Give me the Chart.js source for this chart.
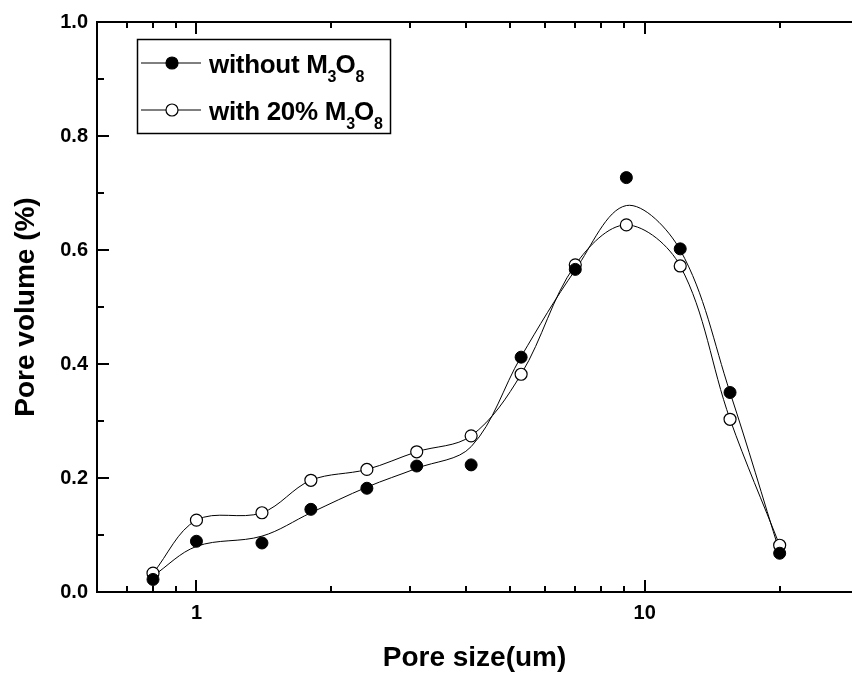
<!DOCTYPE html>
<html>
<head>
<meta charset="utf-8">
<script src="https://cdn.jsdelivr.net/npm/chart.js@4/dist/chart.umd.min.js"></script>
<style>
  html, body { margin: 0; padding: 0; background: #fff; overflow: hidden; }
</style>
</head>
<body>
<canvas id="poreChart" width="852" height="682"></canvas>
<script>
// values
var poreSize = [0.8, 1.0, 1.4, 1.8, 2.4, 3.1, 4.1, 5.3, 7.0, 9.1, 12.0, 15.5, 20.0];
var volWithout = [0.022, 0.089, 0.086, 0.145, 0.182, 0.221, 0.223, 0.412, 0.566, 0.727, 0.602, 0.350, 0.068];
var volWithoutCurve = [0.028, 0.080, 0.098, 0.139, 0.184, 0.217, 0.255, 0.413, 0.565, 0.678, 0.600, 0.350, 0.070];
var volWith = [0.033, 0.126, 0.139, 0.196, 0.215, 0.246, 0.274, 0.382, 0.574, 0.644, 0.572, 0.303, 0.082];
var seriesNames = ['without M\u2083O\u2088', 'with 20% M\u2083O\u2088'];

var xMajorTicks = [1, 10];
var xMinorTicks = [0.7, 0.8, 0.9, 2, 3, 4, 5, 6, 7, 8, 9, 20];
var yMajorTicks = [0, 0.2, 0.4, 0.6, 0.8, 1.0];
var yMinorTicks = [0.1, 0.3, 0.5, 0.7, 0.9];

var FONT = 'Arial, "Liberation Sans", Helvetica, sans-serif';

function toPoints(xs, ys) {
  return xs.map(function(x, i) { return { x: x, y: ys[i] }; });
}

// inward ticks on bottom/top/left plus the top frame line
var frameTicks = {
  id: 'frameTicks',
  afterDraw: function(chart) {
    var ctx = chart.ctx, a = chart.chartArea;
    var xs = chart.scales.x, ys = chart.scales.y;
    ctx.save();
    ctx.strokeStyle = '#000';
    ctx.lineWidth = 2;
    ctx.beginPath();
    ctx.moveTo(a.left - 1, a.top);
    ctx.lineTo(a.right, a.top);
    function xTick(v, len) {
      var px = Math.round(xs.getPixelForValue(v));
      ctx.moveTo(px, a.bottom); ctx.lineTo(px, a.bottom - len);
      ctx.moveTo(px, a.top); ctx.lineTo(px, a.top + len);
    }
    function yTick(v, len) {
      var py = Math.round(ys.getPixelForValue(v));
      ctx.moveTo(a.left, py); ctx.lineTo(a.left + len, py);
    }
    xMajorTicks.forEach(function(v) { xTick(v, 12); });
    xMinorTicks.forEach(function(v) { xTick(v, 6); });
    yMajorTicks.forEach(function(v) { yTick(v, 12); });
    yMinorTicks.forEach(function(v) { yTick(v, 7); });
    ctx.stroke();
    ctx.restore();
  }
};

// boxed legend with lowered subscript digits
var subLegend = {
  id: 'subLegend',
  afterDraw: function(chart) {
    var ctx = chart.ctx;
    var box = { x: 137.5, y: 39.5, w: 253, h: 94 };
    ctx.save();
    ctx.fillStyle = '#fff';
    ctx.fillRect(box.x, box.y, box.w, box.h);
    ctx.strokeStyle = '#000';
    ctx.lineWidth = 1.5;
    ctx.strokeRect(box.x, box.y, box.w, box.h);

    chart.data.datasets.filter(function(d) { return d.legendRow !== undefined; }).forEach(function(ds) {
      var rowY = 63 + ds.legendRow * 47;
      ctx.strokeStyle = '#000';
      ctx.lineWidth = 1;
      ctx.beginPath();
      ctx.moveTo(141, rowY); ctx.lineTo(201, rowY);
      ctx.stroke();
      ctx.beginPath();
      ctx.arc(172, rowY, 6, 0, Math.PI * 2);
      ctx.fillStyle = ds.backgroundColor;
      ctx.fill();
      ctx.lineWidth = 1.2;
      ctx.stroke();

      var x = 209, base = rowY + 10;
      ctx.fillStyle = '#000';
      ctx.textBaseline = 'alphabetic';
      ctx.textAlign = 'left';
      Array.from(ds.label).forEach(function(ch) {
        var code = ch.charCodeAt(0);
        if (code >= 0x2080 && code <= 0x2089) {
          var digit = String(code - 0x2080);
          ctx.font = 'bold 16px ' + FONT;
          ctx.fillText(digit, x, base + 9);
          x += ctx.measureText(digit).width - 1;
        } else {
          ctx.font = 'bold 26px ' + FONT;
          ctx.fillText(ch, x, base);
          x += ctx.measureText(ch).width - 0.3;
        }
      });
    });
    ctx.restore();
  }
};

var ctx = document.getElementById('poreChart').getContext('2d');
new Chart(ctx, {
  type: 'scatter',
  data: {
    datasets: [
      {
        label: seriesNames[0],
        legendRow: 0,
        data: toPoints(poreSize, volWithout),
        showLine: false,
        pointRadius: 6,
        pointBackgroundColor: '#000',
        backgroundColor: '#000',
        borderColor: '#000',
        pointBorderWidth: 1
      },
      {
        label: seriesNames[1],
        legendRow: 1,
        data: toPoints(poreSize, volWith),
        showLine: true,
        tension: 0.35,
        borderWidth: 1,
        borderColor: '#000',
        backgroundColor: '#fff',
        pointRadius: 6,
        pointBackgroundColor: '#fff',
        pointBorderColor: '#000',
        pointBorderWidth: 1.2
      },
      {
        label: 'curve',
        data: toPoints(poreSize, volWithoutCurve),
        showLine: true,
        tension: 0.35,
        borderWidth: 1,
        borderColor: '#000',
        pointRadius: 0
      }
    ]
  },
  options: {
    responsive: false,
    animation: false,
    layout: { autoPadding: false, padding: { top: 22, right: 0, left: 0, bottom: 0 } },
    plugins: {
      legend: { display: false },
      tooltip: { enabled: false }
    },
    scales: {
      x: {
        type: 'logarithmic',
        min: 0.6,
        max: 29,
        afterBuildTicks: function(scale) {
          scale.ticks = xMajorTicks.map(function(v) { return { value: v }; });
        },
        afterFit: function(scale) {
          scale.height = 90;
          scale.paddingLeft = 0;
          scale.paddingRight = 0;
        },
        grid: { drawOnChartArea: false, drawTicks: false },
        border: { display: true, color: '#000', width: 2 },
        ticks: {
          autoSkip: false,
          maxRotation: 0,
          padding: 9,
          color: '#000',
          font: { family: FONT, size: 20, weight: 'bold' },
          callback: function(v) { return String(v); }
        },
        title: {
          display: true,
          text: 'Pore size(um)',
          color: '#000',
          font: { family: FONT, size: 28, weight: 'bold' },
          padding: { top: 0, bottom: 7 }
        }
      },
      y: {
        min: 0,
        max: 1,
        afterBuildTicks: function(scale) {
          scale.ticks = yMajorTicks.map(function(v) { return { value: v }; });
        },
        afterFit: function(scale) { scale.width = 97; },
        grid: { drawOnChartArea: false, drawTicks: false },
        border: { display: true, color: '#000', width: 2 },
        ticks: {
          padding: 9,
          color: '#000',
          font: { family: FONT, size: 20, weight: 'bold' },
          callback: function(v) { return Number(v).toFixed(1); }
        },
        title: {
          display: true,
          text: 'Pore volume (%)',
          color: '#000',
          font: { family: FONT, size: 28, weight: 'bold' },
          padding: { top: 9, bottom: 0 }
        }
      }
    }
  },
  plugins: [frameTicks, subLegend]
});
</script>
</body>
</html>
